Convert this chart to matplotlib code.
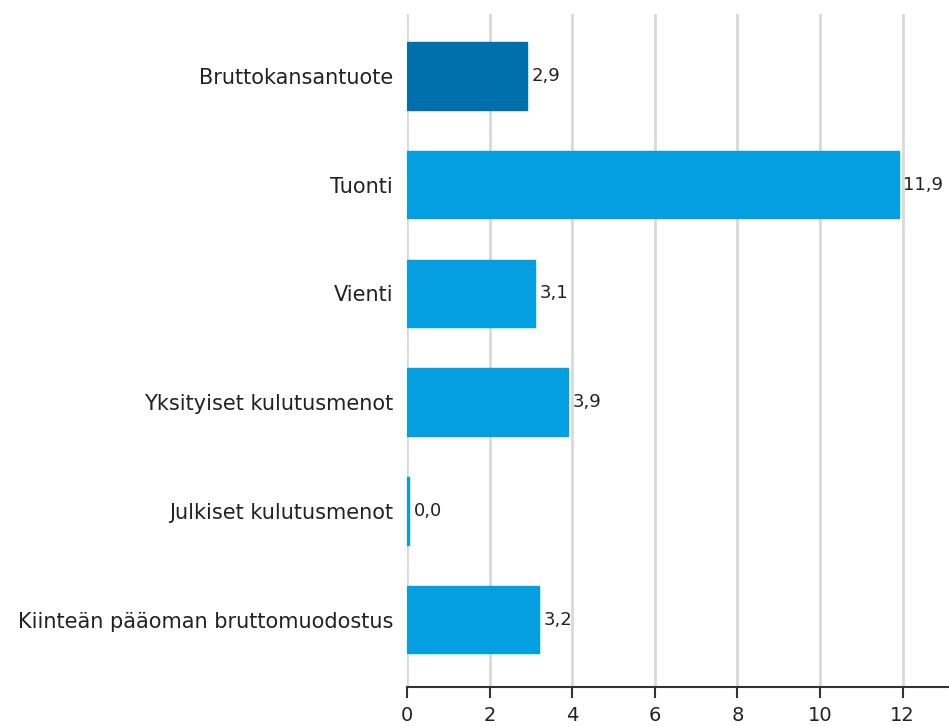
import matplotlib.pyplot as plt

plt.rcParams["font.family"] = ["DejaVu Sans"]

categories = [
    "Bruttokansantuote",
    "Tuonti",
    "Vienti",
    "Yksityiset kulutusmenot",
    "Julkiset kulutusmenot",
    "Kiinteän pääoman bruttomuodostus",
]
values = [2.9, 11.9, 3.1, 3.9, 0.04, 3.2]
colors = ["#0070ad", "#049fe1", "#049fe1", "#049fe1", "#049fe1", "#049fe1"]
xticks = [0, 2, 4, 6, 8, 10, 12]

fig = plt.figure(figsize=(9.49, 7.26), dpi=100)
ax = fig.add_axes([407 / 949, 1 - 687 / 726, 1 - 407 / 949, (687 - 14) / 726])

ypos = list(range(len(categories)))
ax.barh(ypos, values, height=0.62, color=colors, edgecolor=colors, linewidth=1.0, zorder=3)

for y, v in zip(ypos, values):
    ax.annotate(f"{v:.1f}".replace(".", ","), (v, y), xytext=(3.5, 0),
                textcoords="offset points", va="center", ha="left",
                fontsize=13, color="#222222")

ax.set_ylim(5.62, -0.57)
ax.set_xlim(0, 13.12)
ax.set_yticks(ypos)
ax.set_yticklabels(categories, fontsize=15, color="#222222")
ax.set_xticks(xticks)
ax.set_xticklabels([str(t) for t in xticks], fontsize=14, color="#222222")

ax.grid(axis="x", color="#d9d9d9", linewidth=2, zorder=0)
ax.tick_params(axis="y", length=0, pad=10)
ax.tick_params(axis="x", length=8, width=1.5, color="#333333", pad=6)
for side in ["top", "right", "left"]:
    ax.spines[side].set_visible(False)
ax.spines["bottom"].set_color("#333333")
ax.spines["bottom"].set_linewidth(1.5)

fig.savefig("out.png", dpi=100)
